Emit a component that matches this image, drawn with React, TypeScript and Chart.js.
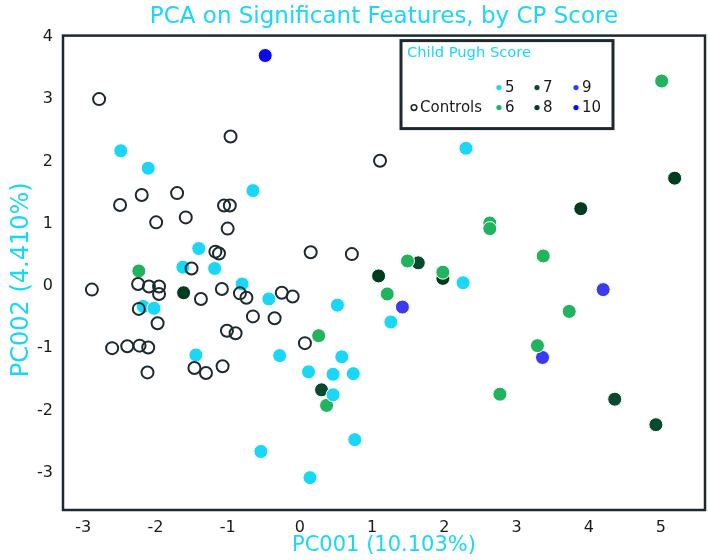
import React, { useEffect, useRef } from "react";
import { Chart, registerables } from "chart.js";

Chart.register(...registerables);

const FONT = "'DejaVu Sans', sans-serif";
const CYAN = "#1ad6f7";
const DARK = "#1c2a30";

const chartTitle = "PCA on Significant Features, by CP Score";
const xTitle = "PC001 (10.103%)";
const yTitle = "PC002 (4.410%)";
const legendTitle = "Child Pugh Score";

const xTicks = [-3, -2, -1, 0, 1, 2, 3, 4, 5];
const yTicks = [-3, -2, -1, 0, 1, 2, 3, 4];

const seriesLabels = ["Controls", "5", "6", "7", "8", "9", "10"];
const seriesColors = [DARK, CYAN, "#22b35e", "#0b4a30", "#003d1f", "#3a3aee", "#0a0aee"];

const controlsX = [-2.78, -0.96, -2.49, -2.19, -1.7, -1.99, -1.58, -1.05, -0.97, -1.0, -1.17, -1.12, -1.5, -2.88, -2.24, -2.09, -1.95, -1.95, -1.37, -1.08, -0.83, -0.74, -0.25, -0.1, -2.23, -1.97, -0.65, -0.35, -1.01, -0.89, -2.6, -2.39, -2.22, -2.1, -1.46, -1.3, -1.07, -2.11, 0.15, 0.72, 0.07, 1.11];
const controlsY = [3.0, 2.4, 1.3, 1.46, 1.49, 1.02, 1.1, 1.29, 1.29, 0.92, 0.55, 0.52, 0.28, -0.06, 0.03, -0.01, -0.01, -0.13, -0.21, -0.05, -0.12, -0.19, -0.11, -0.17, -0.37, -0.6, -0.49, -0.52, -0.72, -0.76, -1.0, -0.97, -0.96, -0.99, -1.32, -1.4, -1.29, -1.39, 0.54, 0.51, -0.92, 2.01];

const cp5X = [-2.48, -2.1, -0.65, -1.4, -1.62, -1.18, -0.8, -0.43, -2.17, -2.02, -1.44, -0.28, 0.52, 0.58, 0.12, 0.46, 0.74, 0.46, 0.76, -0.54, 0.14, 1.26, 2.3, 2.26];
const cp5Y = [2.17, 1.89, 1.53, 0.6, 0.3, 0.28, 0.03, -0.21, -0.33, -0.36, -1.11, -1.12, -0.31, -1.14, -1.38, -1.42, -1.41, -1.75, -2.47, -2.66, -3.08, -0.58, 2.21, 0.05];

const cp6X = [-2.23, 1.49, 1.21, 0.26, 0.37, 2.63, 2.63, 3.37, 1.98, 3.73, 3.29, 2.77, 5.01];
const cp6Y = [0.24, 0.4, -0.13, -0.8, -1.92, 1.01, 0.92, 0.48, 0.22, -0.41, -0.96, -1.74, 3.29];

const cp7X = [4.36, 4.93, 1.64, 0.3];
const cp7Y = [-1.82, -2.23, 0.37, -1.67];

const cp8X = [5.19, 3.89, 1.09, -1.61, 1.98];
const cp8Y = [1.73, 1.24, 0.16, -0.11, 0.12];

const cp9X = [1.42, 4.2, 3.36];
const cp9Y = [-0.34, -0.06, -1.15];

const cp10X = [-0.48];
const cp10Y = [3.7];

const seriesXs = [controlsX, cp5X, cp6X, cp7X, cp8X, cp9X, cp10X];
const seriesYs = [controlsY, cp5Y, cp6Y, cp7Y, cp8Y, cp9Y, cp10Y];

const zip = (xs: number[], ys: number[]) => xs.map((x, i) => ({ x, y: ys[i] }));

const boxPlugin = {
  id: "plotBox",
  afterDraw(chart: any) {
    const { ctx, chartArea } = chart;
    ctx.save();
    ctx.strokeStyle = DARK;
    ctx.lineWidth = 2.5;
    ctx.strokeRect(chartArea.left, chartArea.top, chartArea.right - chartArea.left, chartArea.bottom - chartArea.top);
    // rotated y-axis title
    ctx.translate(22, (chartArea.top + chartArea.bottom) / 2 + 7);
    ctx.rotate(-Math.PI / 2);
    ctx.fillStyle = CYAN;
    ctx.font = `24px ${FONT}`;
    ctx.textAlign = "center";
    ctx.textBaseline = "middle";
    ctx.fillText(yTitle, 0, 0);
    ctx.restore();
  },
};

// legend grid positions: [column, row]
const legendCells: [number, number][] = [[0, 1], [1, 0], [1, 1], [2, 0], [2, 1], [3, 0], [3, 1]];

const legendPlugin = {
  id: "cpLegend",
  afterDraw(chart: any) {
    const { ctx, chartArea } = chart;
    const bx = chartArea.right - 304;
    const by = chartArea.top + 5;
    const bw = 212;
    const bh = 88;
    ctx.save();
    ctx.fillStyle = "#ffffff";
    ctx.fillRect(bx, by, bw, bh);
    ctx.strokeStyle = DARK;
    ctx.lineWidth = 3;
    ctx.strokeRect(bx, by, bw, bh);
    ctx.fillStyle = CYAN;
    ctx.font = `14.7px ${FONT}`;
    ctx.textBaseline = "middle";
    ctx.textAlign = "left";
    ctx.fillText(legendTitle, bx + 6, by + 13);
    const colX = [bx + 13, bx + 98, bx + 136, bx + 175];
    const rowY = [by + 47, by + 67];
    ctx.font = `15px ${FONT}`;
    seriesLabels.forEach((lab, i) => {
      const [c, r] = legendCells[i];
      const mx = colX[c];
      const my = rowY[r];
      ctx.beginPath();
      if (i === 0) {
        ctx.arc(mx, my, 2.8, 0, Math.PI * 2);
        ctx.strokeStyle = DARK;
        ctx.lineWidth = 1.6;
        ctx.stroke();
      } else {
        ctx.arc(mx, my, 2.6, 0, Math.PI * 2);
        ctx.fillStyle = seriesColors[i];
        ctx.fill();
      }
      ctx.fillStyle = "#1a1a1a";
      ctx.fillText(lab, mx + 6, my + 1);
    });
    ctx.restore();
  },
};

export default function App() {
  const ref = useRef<HTMLCanvasElement | null>(null);
  useEffect(() => {
    document.body.style.margin = "0";
    if (!ref.current) return;
    const datasets = seriesLabels.map((lab, i) => ({
      label: lab,
      data: zip(seriesXs[i], seriesYs[i]),
      pointRadius: i === 0 ? 6 : 7,
      pointHoverRadius: i === 0 ? 6 : 7,
      pointBackgroundColor: i === 0 ? "rgba(0,0,0,0)" : seriesColors[i],
      pointBorderColor: i === 0 ? DARK : "#ffffff",
      pointBorderWidth: i === 0 ? 2 : 1,
      showLine: false,
    }));
    const chart = new Chart(ref.current, {
      type: "scatter",
      data: { datasets },
      options: {
        animation: false,
        responsive: false,
        layout: { autoPadding: false, padding: { left: 0, right: 3, top: 0, bottom: 0 } } as any,
        plugins: {
          legend: { display: false },
          tooltip: { enabled: false },
          title: {
            display: true,
            fullSize: false,
            text: chartTitle,
            color: CYAN,
            font: { family: FONT, size: 23, weight: "normal" },
            padding: { top: 3, bottom: 5 },
          },
        },
        scales: {
          x: {
            type: "linear",
            min: -3.28,
            max: 5.61,
            grid: { display: false, drawTicks: true, tickLength: 5, tickColor: DARK, tickWidth: 2 } as any,
            border: { display: true, color: DARK, width: 2 },
            ticks: { color: "#1a1a1a", font: { family: FONT, size: 16 }, padding: 3 },
            title: {
              display: true,
              text: xTitle,
              color: CYAN,
              font: { family: FONT, size: 21 },
              padding: { top: 0, bottom: 2 },
            },
            afterBuildTicks: (s: any) => {
              s.ticks = xTicks.map((v) => ({ value: v }));
            },
            afterFit: (s: any) => {
              s.height = 50;
              s.paddingLeft = 0;
              s.paddingRight = 0;
            },
          },
          y: {
            type: "linear",
            min: -3.6,
            max: 4.02,
            grid: { display: false, drawTicks: true, tickLength: 5, tickColor: DARK, tickWidth: 2 } as any,
            border: { display: true, color: DARK, width: 2 },
            ticks: { color: "#1a1a1a", font: { family: FONT, size: 16 }, padding: 5 },
            title: { display: false },
            afterBuildTicks: (s: any) => {
              s.ticks = yTicks.map((v) => ({ value: v }));
            },
            afterFit: (s: any) => {
              s.width = 63;
              s.paddingTop = 0;
              s.paddingBottom = 0;
            },
          },
        },
      },
      plugins: [boxPlugin, legendPlugin],
    });
    return () => chart.destroy();
  }, []);
  return (
    <div style={{ width: 708, height: 560 }}>
      <canvas ref={ref} width={708} height={560} style={{ display: "block" }} />
    </div>
  );
}
